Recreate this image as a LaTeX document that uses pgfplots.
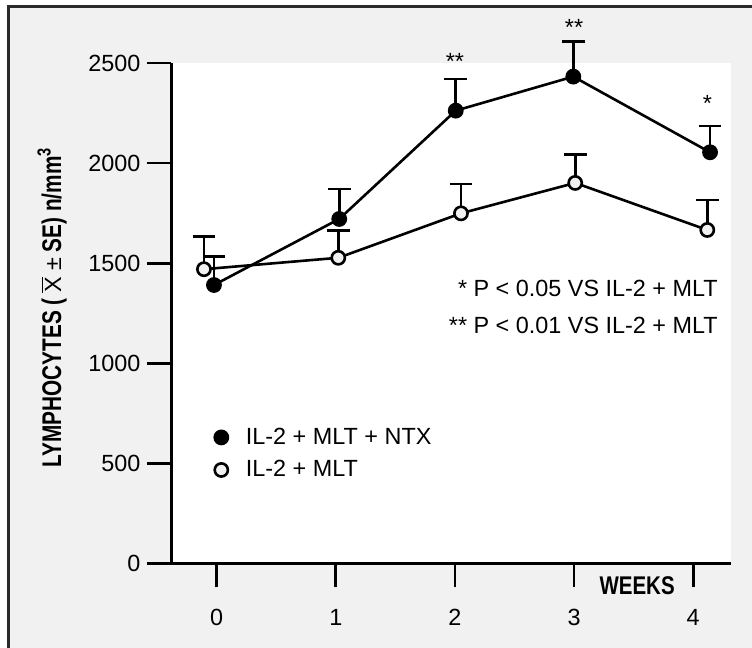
\documentclass[border=0pt]{standalone}
\usepackage{pgfplots}
\pgfplotsset{compat=1.18}
\usepackage{pgfplotstable}
\usepackage{fontspec}
\setmainfont{Liberation Sans}
\usepackage{graphicx}
\definecolor{bggray}{HTML}{F1F1F1}
\definecolor{framecol}{HTML}{2A2A2A}
\newcommand{\lab}{\fontsize{11.7}{14}\selectfont}
\newcommand{\cond}[1]{\scalebox{0.8}[1]{\fontsize{12.8}{15}\selectfont\bfseries #1}}
\newcommand{\ylab}[1]{\scalebox{0.77}[1]{\fontsize{13.5}{15}\selectfont\bfseries #1}}

% weeks (points sit a little off the ticks), mean, +SE
\pgfplotstableread{
x      y     e
-0.023 1391  141
1.029  1721  150
2.007  2262  158
2.994  2432  174
4.142  2054  131
}\ntx
\pgfplotstableread{
x      y     e
-0.107 1470  162
1.021  1527  135
2.051  1749  147
3.010  1901  143
4.119  1666  150
}\mlt

\begin{document}
\begin{tikzpicture}
\useasboundingbox (-85.75pt,-42.25pt) rectangle (290.25pt,281.75pt);
\fill[bggray] (-81.25pt,-60pt) rectangle (310pt,278.25pt);
\draw[framecol,line width=1.5pt] (-81.25pt,-60pt) -- (-81.25pt,278.25pt) -- (310pt,278.25pt);
\begin{axis}[
  at={(0pt,0pt)}, anchor=south west,
  scale only axis, width=279.75pt, height=250.25pt,
  xmin=-0.3795, xmax=4.318, ymin=0, ymax=2500,
  axis x line*=bottom, axis y line*=left,
  axis line style={line width=1.4pt},
  axis background/.style={fill=white},
  xtick={0,...,4}, ytick={0,500,...,2500},
  tick align=outside, major tick length=12pt,
  tick style={line width=1.4pt, black},
  tick label style={font=\lab},
  xticklabel style={yshift=-7.5pt},
  /pgf/number format/assume math mode=true,
  /pgf/number format/1000 sep={},
  clip=false,
  legend style={at={(axis cs:-0.02,690)}, anchor=north west,
    draw=none, fill=none, inner sep=0pt, row sep=4.6pt, column sep=8pt,
    font=\lab, nodes={inner sep=1pt}},
  legend cell align=left,
  legend image code/.code={\draw[#1] plot coordinates {(0pt,0pt)};},
]
\addplot[black, line width=1.3pt, mark=*, mark size=3.3pt,
  mark options={fill=black},
  error bars/.cd, y dir=plus, y explicit,
  error bar style={line width=1.3pt},
  error mark options={rotate=90, mark size=5.7pt, line width=1.3pt}]
  table[x=x, y=y, y error=e] {\ntx};
\addlegendentry{IL-2 + MLT + NTX}
\addplot[black, line width=1.3pt, mark=*, mark size=3.3pt,
  mark options={fill=bggray, draw=black},
  error bars/.cd, y dir=plus, y explicit,
  error bar style={line width=1.3pt},
  error mark options={rotate=90, mark size=5.7pt, line width=1.3pt}]
  table[x=x, y=y, y error=e] {\mlt};
\addlegendentry{IL-2 + MLT}

\node[font=\lab] at (axis cs:2.0,2506) {**};
\node[font=\lab] at (axis cs:3.0,2680) {**};
\node[font=\lab] at (axis cs:4.12,2300) {*};
\node[font=\lab, anchor=east] at (axis cs:4.266,1376) {* P < 0.05 VS IL-2 + MLT};
\node[font=\lab, anchor=east] at (axis cs:4.266,1191) {** P < 0.01 VS IL-2 + MLT};
\node at (axis cs:3.53,-112) {\cond{WEEKS}};
\end{axis}
\node[rotate=90] at (-59.75pt,128pt)
  {\ylab{LYMPHOCYTES (}\ {\lab$\overline{\mbox{X}}$ ±}\ \ylab{SE) n/mm\textsuperscript{3}}};
\end{tikzpicture}
\end{document}
